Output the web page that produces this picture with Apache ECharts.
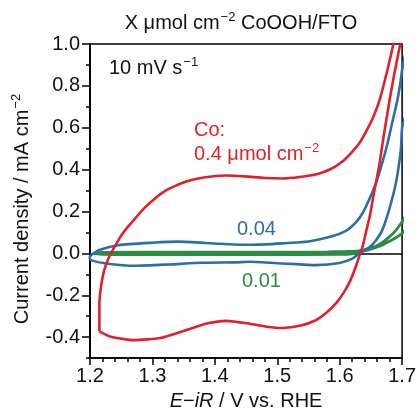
<!DOCTYPE html>
<html>
<head>
<meta charset="utf-8">
<script src="https://cdn.jsdelivr.net/npm/echarts@6/dist/echarts.min.js"></script>
<style>html,body{margin:0;padding:0;background:#fff}#c{width:419px;height:416px}</style>
</head>
<body>
<div id="c"></div>
<script>
// ---- data: [E - iR (V vs RHE), current density (mA cm^-2)] ----
const redCurve = [
  [1.215,-0.372],[1.215,-0.30],[1.215,-0.25],[1.2175,-0.16],[1.2228,-0.08],[1.2307,-0.016],
  [1.2414,0.042],[1.252,0.094],[1.263,0.135],[1.289,0.222],[1.321,0.300],[1.353,0.342],
  [1.385,0.364],[1.417,0.372],[1.448,0.368],[1.48,0.360],[1.509,0.358],[1.536,0.365],
  [1.563,0.378],[1.585,0.402],[1.605,0.440],[1.620,0.485],[1.632,0.528],[1.642,0.580],
  [1.653,0.645],[1.664,0.733],[1.676,0.870],[1.686,1.0],[1.691,1.08],
  [1.699,1.04],[1.697,1.0],[1.688,0.865],[1.680,0.733],[1.671,0.570],[1.663,0.414],
  [1.655,0.290],[1.648,0.175],[1.642,0.100],[1.637,0.035],[1.632,-0.008],[1.625,-0.070],
  [1.617,-0.130],[1.607,-0.185],[1.595,-0.235],[1.580,-0.280],[1.5626,-0.318],[1.536,-0.346],
  [1.509,-0.356],[1.483,-0.350],[1.456,-0.336],[1.419,-0.322],[1.387,-0.335],
  [1.3555,-0.365],[1.313,-0.404],[1.2706,-0.414],[1.2334,-0.398],[1.215,-0.372]
];
const blueCurve = [
  [1.2016,-0.008],[1.2148,0.016],[1.2467,0.040],[1.30,0.051],[1.342,0.056],[1.406,0.046],
  [1.456,0.041],[1.509,0.048],[1.55,0.057],[1.589,0.083],[1.61,0.108],[1.621,0.133],
  [1.632,0.170],[1.642,0.223],[1.658,0.335],[1.674,0.494],[1.6846,0.630],[1.6925,0.733],
  [1.6975,0.820],[1.700,0.876],[1.705,0.95],
  [1.705,0.66],[1.700,0.600],[1.698,0.494],[1.690,0.335],[1.679,0.207],[1.668,0.110],
  [1.658,0.062],[1.648,0.030],[1.6315,0.0],[1.621,-0.024],[1.60,-0.046],[1.5626,-0.056],
  [1.509,-0.048],[1.456,-0.040],[1.4325,-0.043],[1.379,-0.045],[1.326,-0.053],
  [1.273,-0.059],[1.2255,-0.048],[1.2016,-0.032],[1.1995,-0.020],[1.2016,-0.008]
];
const greenCurve = [
  [1.207,0.0],[1.22,0.005],[1.30,0.006],[1.40,0.006],[1.50,0.006],[1.58,0.007],
  [1.61,0.009],[1.63,0.012],[1.65,0.025],[1.665,0.045],[1.68,0.080],[1.69,0.110],
  [1.70,0.151],[1.705,0.175],
  [1.705,0.115],[1.70,0.096],[1.69,0.075],[1.68,0.058],[1.665,0.035],[1.65,0.020],
  [1.635,0.008],[1.62,-0.002],[1.60,-0.005],[1.50,-0.006],[1.40,-0.006],[1.30,-0.006],
  [1.22,-0.005],[1.207,0.0]
];
const xMajorTicks = [1.2,1.3,1.4,1.5,1.6,1.7];
const yMajorTicks = [-0.4,-0.2,0.0,0.2,0.4,0.6,0.8,1.0];
const yMinorTicks = [-0.5,-0.3,-0.1,0.1,0.3,0.5,0.7,0.9];

const RED = '#e0202b', BLUE = '#2c6ea8', GREEN = '#2e8b45';
const FONT = '"Liberation Sans", Arial, Helvetica, sans-serif';
const FS = 20, SFS = 13, LH = 24;

const chart = echarts.init(document.getElementById('c'), null, {renderer: 'canvas'});

// rich styles for axis names (echarts text style uses "color")
function richAxis(color) {
  return {
    n: {fontSize: FS, fontFamily: FONT, color: color, lineHeight: LH},
    s: {fontSize: SFS, fontFamily: FONT, color: color, verticalAlign: 'top', lineHeight: LH, padding: [0, 0, 8, 1]},
    i: {fontSize: FS, fontFamily: FONT, color: color, fontStyle: 'italic', lineHeight: LH}
  };
}
// rich styles for graphic texts (zrender uses "fill")
function richG(color) {
  return {
    n: {fontSize: FS, fontFamily: FONT, fill: color, lineHeight: LH},
    s: {fontSize: SFS, fontFamily: FONT, fill: color, verticalAlign: 'top', lineHeight: LH, padding: [0, 0, 8, 1]}
  };
}

const yCommon = {
  type: 'value', min: -0.5, max: 1.0, position: 'left',
  axisLine: {show: true, lineStyle: {color: '#000', width: 1.5}},
  splitLine: {show: false}
};

const option = {
  animation: false,
  backgroundColor: '#fff',
  grid: {left: 90, right: 16, top: 44, bottom: 57, show: true, borderColor: '#000', borderWidth: 1.5, containLabel: false},
  xAxis: [{
    type: 'value', min: 1.2, max: 1.7, interval: 0.1,
    axisLine: {show: true, onZero: false, lineStyle: {color: '#000', width: 1.5}},
    axisTick: {show: true, inside: false, length: 7, lineStyle: {color: '#000', width: 1.5}},
    minorTick: {show: true, splitNumber: 5, length: 4, lineStyle: {color: '#000', width: 1.5}},
    axisLabel: {
      color: '#111', fontSize: FS, fontFamily: FONT, margin: 8,
      customValues: xMajorTicks,
      formatter: v => v.toFixed(1)
    },
    splitLine: {show: false}, minorSplitLine: {show: false},
    name: '{i|E}{n|−}{i|iR}{n| / V vs. RHE}',
    nameLocation: 'middle', nameGap: 30,
    nameTextStyle: {rich: richAxis('#111')}
  }],
  yAxis: [Object.assign({}, yCommon, {
    axisTick: {show: true, inside: false, length: 8, customValues: yMajorTicks, lineStyle: {color: '#000', width: 1.5}},
    axisLabel: {
      color: '#111', fontSize: FS, fontFamily: FONT, margin: 10,
      customValues: yMajorTicks,
      formatter: v => v.toFixed(1)
    },
    name: '{n|Current density / mA cm}{s|−2}',
    nameLocation: 'middle', nameGap: 56, nameRotate: 90,
    nameTextStyle: {rich: richAxis('#111'), padding: [0, 16, 0, 0]}
  }), Object.assign({}, yCommon, {
    axisTick: {show: true, inside: false, length: 4, customValues: yMinorTicks, lineStyle: {color: '#000', width: 1.5}},
    axisLabel: {show: false, customValues: yMinorTicks}
  })],
  series: [
    {
      type: 'line', data: [], silent: true, z: 1,
      markLine: {silent: true, symbol: 'none', label: {show: false}, z: 1,
        lineStyle: {color: '#000', width: 1.5, type: 'solid'},
        data: [{yAxis: 0}]}
    },
    {type: 'line', data: greenCurve, showSymbol: false, smooth: 0.2, clip: true, z: 3,
      lineStyle: {color: GREEN, width: 2.8}, itemStyle: {color: GREEN}},
    {type: 'line', data: blueCurve, showSymbol: false, smooth: 0.2, clip: true, z: 3,
      lineStyle: {color: BLUE, width: 2.6}, itemStyle: {color: BLUE}},
    {type: 'line', data: redCurve, showSymbol: false, smooth: 0.2, clip: true, z: 3,
      lineStyle: {color: RED, width: 2.6}, itemStyle: {color: RED}}
  ],
  graphic: [
    {type: 'text', x: 241, y: 23, style: {text: '{n|X μmol cm}{s|−2}{n| CoOOH/FTO}', rich: richG('#111'), align: 'center', verticalAlign: 'middle'}},
    {type: 'text', x: 109, y: 68, style: {text: '{n|10 mV s}{s|−1}', rich: richG('#111'), align: 'left', verticalAlign: 'middle'}},
    {type: 'text', x: 194, y: 130, style: {text: '{n|Co:}', rich: richG(RED), align: 'left', verticalAlign: 'middle'}},
    {type: 'text', x: 194, y: 154, style: {text: '{n|0.4 μmol cm}{s|−2}', rich: richG(RED), align: 'left', verticalAlign: 'middle'}},
    {type: 'text', x: 237, y: 229, style: {text: '{n|0.04}', rich: richG(BLUE), align: 'left', verticalAlign: 'middle'}},
    {type: 'text', x: 242, y: 281, style: {text: '{n|0.01}', rich: richG(GREEN), align: 'left', verticalAlign: 'middle'}}
  ]
};
chart.setOption(option);
</script>
</body>
</html>
